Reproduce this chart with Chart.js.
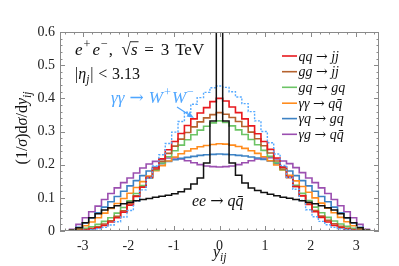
<!DOCTYPE html>
<html>
<head>
<meta charset="utf-8">
<script src="https://cdn.jsdelivr.net/npm/chart.js@4.4.0/dist/chart.umd.min.js"></script>
<style>
  html, body { margin: 0; padding: 0; background: #fff; }
  #wrap { width: 399px; height: 266px; }
</style>
</head>
<body>
<div id="wrap"><canvas id="chart"></canvas></div>
<script>
// bin layout (y_ij)
const binWidth = 0.14;
const binCenters = [
  -3.36, -3.22, -3.08, -2.94, -2.80, -2.66, -2.52, -2.38, -2.24, -2.10, -1.96, -1.82,
  -1.68, -1.54, -1.40, -1.26, -1.12, -0.98, -0.84, -0.70, -0.56, -0.42, -0.28, -0.14,
  0,
  0.14, 0.28, 0.42, 0.56, 0.70, 0.84, 0.98, 1.12, 1.26, 1.40, 1.54, 1.68,
  1.82, 1.96, 2.10, 2.24, 2.38, 2.52, 2.66, 2.80, 2.94, 3.08, 3.22, 3.36
];

const xTicks = [-3, -2, -1, 0, 1, 2, 3];
const yTicks = [0, 0.1, 0.2, 0.3, 0.4, 0.5, 0.6];

// normalised distributions, one value per bin
const qqJJ = [
  0, 0, 0.001, 0.003, 0.006, 0.010, 0.017, 0.027, 0.040, 0.057, 0.078, 0.104,
  0.132, 0.162, 0.190, 0.218, 0.245, 0.270, 0.294, 0.318, 0.338, 0.356, 0.372, 0.390,
  0.400,
  0.392, 0.374, 0.357, 0.338, 0.317, 0.293, 0.270, 0.246, 0.220, 0.192, 0.163, 0.134,
  0.106, 0.080, 0.058, 0.041, 0.027, 0.017, 0.010, 0.005, 0.002, 0.001, 0, 0
];
const ggJJ = [
  0, 0, 0.002, 0.004, 0.008, 0.013, 0.021, 0.031, 0.044, 0.061, 0.082, 0.106,
  0.133, 0.160, 0.186, 0.210, 0.234, 0.256, 0.277, 0.297, 0.314, 0.329, 0.341, 0.351,
  0.357,
  0.352, 0.342, 0.330, 0.315, 0.298, 0.278, 0.257, 0.235, 0.211, 0.187, 0.161, 0.134,
  0.107, 0.083, 0.062, 0.045, 0.032, 0.022, 0.014, 0.008, 0.004, 0.002, 0, 0
];
const gqGQ = [
  0, 0.001, 0.004, 0.008, 0.013, 0.020, 0.029, 0.040, 0.054, 0.071, 0.091, 0.113,
  0.137, 0.161, 0.184, 0.205, 0.224, 0.242, 0.259, 0.275, 0.290, 0.304, 0.316, 0.326,
  0.332,
  0.327, 0.317, 0.305, 0.291, 0.276, 0.260, 0.243, 0.225, 0.206, 0.185, 0.162, 0.138,
  0.114, 0.092, 0.072, 0.055, 0.041, 0.030, 0.021, 0.014, 0.008, 0.004, 0.001, 0
];
const aaQQ = [
  0, 0.002, 0.007, 0.016, 0.027, 0.040, 0.054, 0.068, 0.083, 0.098, 0.114, 0.131,
  0.149, 0.166, 0.182, 0.197, 0.211, 0.223, 0.233, 0.241, 0.248, 0.254, 0.258, 0.261,
  0.263,
  0.262, 0.259, 0.255, 0.249, 0.242, 0.234, 0.224, 0.212, 0.199, 0.184, 0.168, 0.151,
  0.134, 0.117, 0.100, 0.084, 0.069, 0.055, 0.041, 0.028, 0.016, 0.007, 0.002, 0
];
const aqGQ = [
  0, 0.003, 0.011, 0.024, 0.039, 0.055, 0.072, 0.088, 0.104, 0.120, 0.136, 0.152,
  0.167, 0.181, 0.193, 0.203, 0.210, 0.215, 0.219, 0.222, 0.225, 0.228, 0.230, 0.231,
  0.232,
  0.231, 0.230, 0.228, 0.226, 0.223, 0.220, 0.216, 0.211, 0.203, 0.193, 0.181, 0.167,
  0.152, 0.136, 0.120, 0.104, 0.088, 0.072, 0.055, 0.039, 0.024, 0.011, 0.003, 0
];
const agQQ = [
  0, 0.005, 0.020, 0.040, 0.058, 0.075, 0.095, 0.113, 0.130, 0.146, 0.160, 0.175,
  0.190, 0.202, 0.210, 0.216, 0.220, 0.220, 0.217, 0.212, 0.206, 0.200, 0.196, 0.194,
  0.193,
  0.194, 0.196, 0.200, 0.206, 0.212, 0.217, 0.220, 0.221, 0.217, 0.211, 0.203, 0.191,
  0.176, 0.160, 0.146, 0.130, 0.113, 0.095, 0.076, 0.058, 0.040, 0.020, 0.005, 0
];
const aaWW = [
  0, 0, 0.001, 0.002, 0.004, 0.007, 0.011, 0.018, 0.028, 0.042, 0.062, 0.090,
  0.124, 0.160, 0.196, 0.230, 0.264, 0.298, 0.330, 0.358, 0.382, 0.402, 0.418, 0.432,
  0.437,
  0.433, 0.420, 0.404, 0.384, 0.360, 0.332, 0.300, 0.266, 0.232, 0.198, 0.162, 0.126,
  0.092, 0.064, 0.043, 0.029, 0.019, 0.011, 0.007, 0.004, 0.002, 0.001, 0, 0
];
const eeQQ = [
  0, 0.002, 0.010, 0.025, 0.040, 0.052, 0.063, 0.070, 0.076, 0.082, 0.087, 0.091,
  0.095, 0.098, 0.102, 0.105, 0.108, 0.112, 0.118, 0.127, 0.142, 0.160, 0.205, 0.332,
  1.000,
  0.332, 0.205, 0.168, 0.145, 0.130, 0.122, 0.116, 0.111, 0.106, 0.102, 0.099, 0.095,
  0.091, 0.087, 0.082, 0.076, 0.070, 0.063, 0.052, 0.040, 0.025, 0.010, 0.002, 0
];

const legendLabels = ["qq → jj", "gg → jj", "gq → gq", "γγ → qq\u0304", "γq → gq", "γg → qq\u0304"];
const legendColors = ["#e8191e", "#b5622e", "#6cc466", "#ff8c1e", "#3d82c4", "#9b4fb0"];
const legendSeries = [qqJJ, ggJJ, gqGQ, aaQQ, aqGQ, agQQ];

const serif = "'Liberation Serif', 'DejaVu Serif', serif";

function histPoints(values) {
  const pts = binCenters.map((c, i) => ({ x: c - binWidth / 2, y: values[i] }));
  pts.push({ x: binCenters[binCenters.length - 1] + binWidth / 2, y: values[values.length - 1] });
  return pts;
}

function histDataset(label, values, color, extra = {}) {
  return {
    label,
    data: histPoints(values),
    borderColor: color,
    borderWidth: 1.6,
    stepped: true,
    pointRadius: 0,
    fill: false,
    ...extra,
  };
}

// draw a run of text pieces: [text, kind]; kind: i italic, ^ sup, _ sub, a arrow glyph; a number is a gap in em
function drawRuns(ctx, parts, x, y, size, measureOnly) {
  let cx = x;
  parts.forEach((p) => {
    if (typeof p === "number") { cx += p * size; return; }
    const [t, kind] = p;
    const small = kind.includes("^") || kind.includes("_");
    const s = small ? size * 0.72 : size;
    const family = kind.includes("a") ? "'DejaVu Serif', serif" : serif;
    ctx.font = `${kind.includes("i") ? "italic " : ""}${s}px ${family}`;
    const dy = kind.includes("^") ? -size * 0.4 : kind.includes("_") ? size * 0.22 : 0;
    if (!measureOnly) ctx.fillText(t, cx, y + dy);
    cx += ctx.measureText(t).width;
  });
  return cx - x;
}

function arrowParts(left, right, gap = 0.2) {
  return [[left, "i"], gap, ["→", "a"], gap, [right, "i"]];
}

const decorations = {
  id: "decorations",
  afterDatasetsDraw(chart) {
    const { ctx, chartArea: a, scales: { x, y } } = chart;
    ctx.save();

    // frame
    ctx.strokeStyle = "#8a8a8a";
    ctx.lineWidth = 1;
    ctx.strokeRect(Math.round(a.left) + 0.5, Math.round(a.top) + 0.5,
      Math.round(a.right - a.left) - 1, Math.round(a.bottom - a.top) - 1);

    // inward ticks on all four sides
    ctx.beginPath();
    for (let v = 0; v <= 0.6001; v += 0.02) {
      const major = Math.abs(v * 10 - Math.round(v * 10)) < 1e-6;
      const len = major ? 5 : 2.5;
      const py = Math.round(y.getPixelForValue(v)) + 0.5;
      ctx.moveTo(a.left, py); ctx.lineTo(a.left + len, py);
      ctx.moveTo(a.right, py); ctx.lineTo(a.right - len, py);
    }
    for (let v = -3.4; v <= 3.4001; v += 0.2) {
      const major = Math.abs(v - Math.round(v)) < 1e-6;
      const len = major ? 5 : 2.5;
      const px = Math.round(x.getPixelForValue(v)) + 0.5;
      ctx.moveTo(px, a.bottom); ctx.lineTo(px, a.bottom - len);
      ctx.moveTo(px, a.top); ctx.lineTo(px, a.top + len);
    }
    ctx.stroke();

    ctx.textBaseline = "alphabetic";
    ctx.textAlign = "left";
    ctx.fillStyle = "#111";

    // process info
    const sz = 17;
    let w = drawRuns(ctx, [["e", "i"], 0.06, ["+", "^"], 0.12, ["e", "i"], 0.06, ["−", "^"], 0.05, [",", ""], 0.5], 75, 55, sz);
    const rootX = 75 + w;
    w += drawRuns(ctx, [["√", ""]], rootX, 55, sz);
    const sX = 75 + w;
    const sW = drawRuns(ctx, [["s", "i"]], sX, 55, sz);
    ctx.beginPath();
    ctx.lineWidth = 0.9;
    ctx.strokeStyle = "#111";
    ctx.moveTo(sX - 0.5, 55 - sz * 0.78); ctx.lineTo(sX + sW + 1, 55 - sz * 0.78);
    ctx.stroke();
    drawRuns(ctx, [0.4, ["=", ""], 0.4, ["3", ""], 0.35, ["TeV", ""]], sX + sW, 55, sz);
    drawRuns(ctx, [["|", ""], ["η", "i"], ["j", "i_"], 0.05, ["|", ""], 0.3, ["<", ""], 0.3, ["3.13", ""]], 75, 79, 16);

    // ee -> qqbar label
    drawRuns(ctx, arrowParts("ee", "qq\u0304", 0.25), 192, 206, 16);

    // W+W- label with arrow
    ctx.fillStyle = "#4fa6ff";
    drawRuns(ctx, [["γγ", "i"], 0.3, ["→", "a"], 0.3, ["W", "i"], 0.06, ["+", "^"], 0.06, ["W", "i"], 0.06, ["−", "^"]], 111, 103, 17);
    ctx.strokeStyle = "#4fa6ff";
    ctx.lineWidth = 1.2;
    ctx.beginPath();
    ctx.moveTo(177, 107); ctx.lineTo(190, 115.5);
    ctx.stroke();
    ctx.beginPath();
    ctx.moveTo(194, 118); ctx.lineTo(186.5, 116.5); ctx.lineTo(189.5, 112);
    ctx.closePath();
    ctx.fill();

    // legend
    const rowY = [56, 71.7, 87.3, 103.2, 118.6, 134.3];
    legendLabels.forEach((lab, i) => {
      ctx.strokeStyle = legendColors[i];
      ctx.lineWidth = 1.6;
      ctx.beginPath();
      ctx.moveTo(282, rowY[i]); ctx.lineTo(297, rowY[i]);
      ctx.stroke();
      ctx.fillStyle = "#111";
      const [l, r] = lab.split(" → ");
      drawRuns(ctx, arrowParts(l, r, 0.25), 298.5, rowY[i] + 4.5, 14);
    });

    // axis titles
    ctx.fillStyle = "#111";
    drawRuns(ctx, [["y", "i"], ["ij", "i_"]], 213, 257, 16);
    const yTitle = [["(1/", ""], ["σ", "i"], [")d", ""], ["σ", "i"], ["/d", ""], ["y", "i"], ["ij", "i_"]];
    ctx.translate(27, 128);
    ctx.rotate(-Math.PI / 2);
    const tw = drawRuns(ctx, yTitle, 0, 0, 16, true);
    drawRuns(ctx, yTitle, -tw / 2, 0, 16);
    ctx.restore();
  },
};

const datasets = [
  histDataset("ee → qq\u0304", eeQQ, "#111111", { borderWidth: 1.5 }),
  histDataset("γγ → W+W−", aaWW, "#56aaff", { borderWidth: 1.4, borderDash: [2, 1.5] }),
  ...legendLabels.map((lab, i) => histDataset(lab, legendSeries[i], legendColors[i])),
];

new Chart(document.getElementById("chart"), {
  type: "line",
  data: { datasets },
  options: {
    responsive: true,
    maintainAspectRatio: false,
    animation: false,
    devicePixelRatio: 1,
    layout: { padding: { left: 0, right: 20, top: 32, bottom: 0 } },
    plugins: { legend: { display: false }, tooltip: { enabled: false } },
    scales: {
      x: {
        type: "linear",
        min: -3.5,
        max: 3.5,
        afterBuildTicks: (scale) => { scale.ticks = xTicks.map((v) => ({ value: v })); },
        afterFit: (scale) => { scale.height = 35; },
        grid: { display: false, drawTicks: false },
        border: { display: false },
        ticks: { padding: 7, color: "#222", font: { family: serif, size: 14 }, maxRotation: 0, callback: (v) => String(v) },
      },
      y: {
        type: "linear",
        min: 0,
        max: 0.6,
        afterBuildTicks: (scale) => { scale.ticks = yTicks.map((v) => ({ value: v })); },
        afterFit: (scale) => { scale.width = 60; },
        grid: { display: false, drawTicks: false },
        border: { display: false },
        ticks: { padding: 5, color: "#222", font: { family: serif, size: 14 }, callback: (v) => String(+v.toFixed(1)) },
      },
    },
  },
  plugins: [decorations],
});
</script>
</body>
</html>
